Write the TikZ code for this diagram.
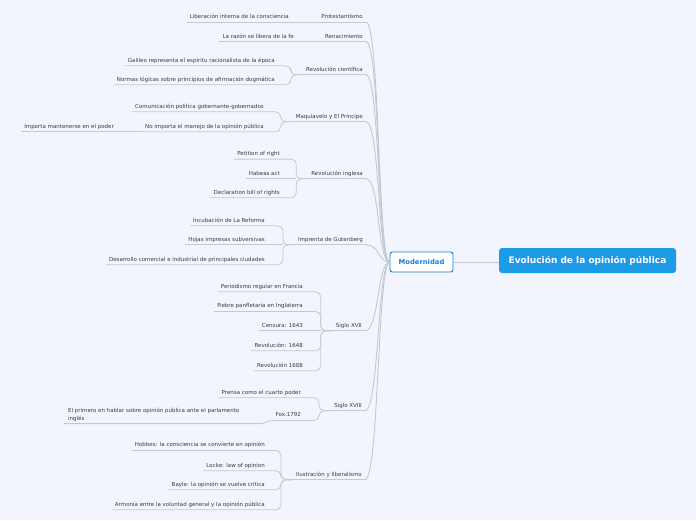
\documentclass[tikz,border=0pt]{standalone}
\usepackage{fontspec}
\setmainfont{DejaVu Sans}
\usetikzlibrary{calc}
\definecolor{bg}{HTML}{F2F5FD}
\definecolor{txt}{HTML}{3A3A44}
\definecolor{ln}{HTML}{C6C8D1}
\definecolor{blu}{HTML}{1E9BE6}
\definecolor{blud}{HTML}{1A80D8}
\tikzset{
 lf/.style={font=\fontsize{5.5}{7}\selectfont, text=txt, inner xsep=3pt, inner ysep=0pt, text height=4pt, text depth=3.6pt, anchor=base east},
 conn/.style={draw=ln, line width=0.8pt, rounded corners=5pt},
 mconn/.style={draw=ln, line width=0.9pt},
}
\newcommand{\brk}[2]{\draw[conn] (#1.south west) -- (#1.south east) -| ($(#2.south west)+(-12,0)$) -- (#2.south west);}
\newcommand{\stc}[2]{\draw[conn] (#1.south west) -- (#2.south west);}
\newcommand{\tpc}[1]{\draw[conn] (#1.south west) -- (#1.south east); \draw[mconn] (#1.south east) .. controls +(14,0) and +(-12,0) .. (mod.west);}
\begin{document}
\begin{tikzpicture}[x=1pt,y=-1pt]
\fill[bg] (0,0) rectangle (696,520);
\useasboundingbox (0,0) rectangle (696,520);

\node[fill=blu, rounded corners=3pt, minimum width=177pt, minimum height=25pt, text=white, font=\bfseries\fontsize{9}{11}\selectfont, inner sep=0pt] (root) at (587.5,260.5) {Evolución de la opinión pública};
\node[draw=blud, fill=white, rounded corners=2.5pt, line width=0.9pt, minimum width=63pt, minimum height=20pt, text=blud, font=\bfseries\fontsize{6.8}{8}\selectfont, inner sep=0pt] (mod) at (421.5,262) {Modernidad};
\draw[mconn] (mod.east) -- (mod.east -| root.west);

% topics
\node[lf] (t1) at (366,18.5) {Protestantismo};
\node[lf] (t2) at (366,38) {Renacimiento};
\node[lf] (t3) at (366,71) {Revolución científica};
\node[lf] (t4) at (366,118) {Maquiavelo y El Príncipe};
\node[lf] (t5) at (366,175) {Revolución inglesa};
\node[lf] (t6) at (366,241) {Imprenta de Gutenberg};
\node[lf] (t7) at (365,327) {Siglo XVII};
\node[lf] (t8) at (365,407) {Siglo XVIII};
\node[lf] (t9) at (365,476) {Ilustración y liberalismo};

% children
\node[lf] (c1a) at (292,18.5) {Liberación interna de la consciencia};
\node[lf] (c2a) at (297,38) {La razón se libera de la fe};
\node[lf] (c3a) at (278,62) {Galileo representa el espíritu racionalista de la época};
\node[lf] (c3b) at (278,81) {Normas lógicas sobre principios de afirmación dogmática};
\node[lf] (c4a) at (267,108) {Comunicación política gobernante-gobernados};
\node[lf] (c4b) at (267,128) {No importa el manejo de la opinión pública};
\node[lf] (g4b) at (117,128) {Importa mantenerse en el poder};
\node[lf] (c5a) at (283,155.3) {Petition of right};
\node[lf] (c5b) at (283,175) {Habeas act};
\node[lf] (c5c) at (283,194) {Declaration bill of rights};
\node[lf] (c6a) at (268,222) {Incubación de La Reforma};
\node[lf] (c6b) at (268,241) {Hojas impresas subversivas};
\node[lf] (c6c) at (268,261) {Desarrollo comercial e industrial de principales ciudades};
\node[lf] (c7a) at (306,288) {Periodismo regular en Francia};
\node[lf] (c7b) at (306,307.7) {Fiebre panfletaria en Inglaterra};
\node[lf] (c7c) at (306,327) {Censura: 1643};
\node[lf] (c7d) at (306,347) {Revolución: 1648};
\node[lf] (c7e) at (306,367) {Revolución 1688};
\node[lf] (c8a) at (304,394) {Prensa como el cuarto poder};
\node[lf] (c8b) at (304,416.7) {Fox.1792};
\node[font=\fontsize{5.5}{7.2}\selectfont, text=txt, align=left, anchor=north west, inner sep=0pt] (g8b) at (68,408.2) {El primero en hablar sobre opinión pública ante el parlamento\\inglés};
\node[lf] (c9a) at (268,446.7) {Hobbes: la consciencia se convierte en opinión};
\node[lf] (c9b) at (268,467) {Locke: law of opinion};
\node[lf] (c9c) at (268,486) {Bayle: la opinión se vuelve crítica};
\node[lf] (c9d) at (268,506) {Armonía entre la voluntad general y la opinión pública};

% connectors
\stc{c1a}{t1}
\stc{c2a}{t2}
\brk{c3a}{t3}\brk{c3b}{t3}
\brk{c4a}{t4}\brk{c4b}{t4}
\stc{g4b}{c4b}
\brk{c5a}{t5}\brk{c5c}{t5}\draw[conn] (c5b.south west) -- ($(t5.south west)+(-12,0)$);
\brk{c6a}{t6}\brk{c6c}{t6}\draw[conn] (c6b.south west) -- ($(t6.south west)+(-12,0)$);
\brk{c7a}{t7}\brk{c7b}{t7}\brk{c7d}{t7}\brk{c7e}{t7}\draw[conn] (c7c.south west) -- ($(t7.south west)+(-12,0)$);
\brk{c8a}{t8}\brk{c8b}{t8}
\coordinate (g8bl) at (64,423.6);
\coordinate (g8br) at (258,423.6);
\draw[conn] (g8bl) -- (g8br) to[out=0,in=180] (c8b.south west);
\brk{c9a}{t9}\brk{c9b}{t9}\brk{c9c}{t9}\brk{c9d}{t9}

\tpc{t1}\tpc{t2}\tpc{t3}\tpc{t4}\tpc{t5}\tpc{t6}\tpc{t7}\tpc{t8}\tpc{t9}
\end{tikzpicture}
\end{document}
